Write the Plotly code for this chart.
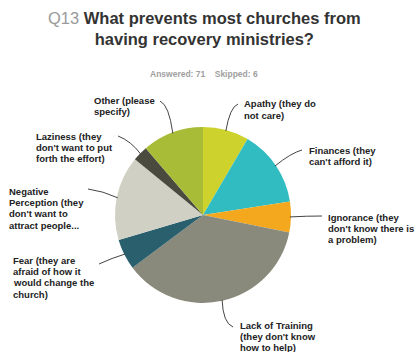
import math
import plotly.graph_objects as go

# Survey responses, clockwise from 12 o'clock
categories = [
    "Apathy (they do not care)",
    "Finances (they can't afford it)",
    "Ignorance (they don't know there is a problem)",
    "Lack of Training (they don't know how to help)",
    "Fear (they are afraid of how it would change the church)",
    "Negative Perception (they don't want to attract people...",
    "Laziness (they don't want to put forth the effort)",
    "Other (please specify)",
]
responses = [6, 10, 4, 26, 4, 11, 2, 8]
label_lines = [
    ["Apathy (they do", "not care)"],
    ["Finances (they", "can't afford it)"],
    ["Ignorance (they", "don't know there is", "a problem)"],
    ["Lack of Training", "(they don't know", "how to help)"],
    ["Fear (they are", "afraid of how it", "would change the", "church)"],
    ["Negative", "Perception (they", "don't want to", "attract people..."],
    ["Laziness (they", "don't want to put", "forth the effort)"],
    ["Other (please", "specify)"],
]
colors = ["#cdd22c", "#30bcc1", "#f4a81d", "#8a8a7c",
          "#2a5f6e", "#d1d0c4", "#4b4a3e", "#a8bc37"]

answered = 71
skipped = 6

# Canvas and pie geometry in pixels
W, H = 415, 352
CX, CY, R = 203, 215, 88

# Label placement: text left edge / first line centre, leader start, bend point
label_pos = [(243, 104), (308, 150), (327, 217), (239, 325),
             (12, 260), (8, 191), (35, 136), (93, 100)]
leader_start = [(238, 104), (302, 150), (322, 216), (233, 327),
                (99, 264), (88, 189), (118, 136), (160, 101)]
leader_bend = [(230, 107), (291, 153), (307, 216), (223, 323),
               (112, 258), (103, 191), (131, 141), (169, 105)]

FONT = "Liberation Sans, Arial, sans-serif"
LABEL_SIZE = 9.5
LINE_GAP = 11.4


def px(x):
    return x / W


def py(y):
    return 1 - y / H


fig = go.Figure(go.Pie(
    labels=categories,
    values=responses,
    sort=False,
    direction="clockwise",
    rotation=0,
    marker=dict(colors=colors, line=dict(width=0)),
    textinfo="none",
    hoverinfo="label+value+percent",
    showlegend=False,
    domain=dict(x=[px(CX - R), px(CX + R)], y=[py(CY + R), py(CY - R)]),
))

total = sum(responses)
cum = 0
shapes = []
annotations = []
for i, v in enumerate(responses):
    mid = (cum + v / 2) / total * 2 * math.pi
    cum += v
    ex = CX + (R - 1) * math.sin(mid)
    ey = CY - (R - 1) * math.cos(mid)
    sx, sy = leader_start[i]
    bx, by = leader_bend[i]
    shapes.append(dict(
        type="path", xref="paper", yref="paper",
        path=f"M {px(sx)},{py(sy)} Q {px(bx)},{py(by)} {px(ex)},{py(ey)}",
        line=dict(color="#444444", width=1),
    ))
    lx, ly = label_pos[i]
    for k, line in enumerate(label_lines[i]):
        annotations.append(dict(
            x=px(lx), y=py(ly + k * LINE_GAP), xref="paper", yref="paper",
            xanchor="left", yanchor="middle", align="left", showarrow=False,
            text=line, borderpad=0,
            font=dict(family=FONT, size=LABEL_SIZE, color="#222222",
                      weight="bold"),
        ))

# Title and response counts
annotations.append(dict(
    x=px(204), y=py(8), xref="paper", yref="paper",
    xanchor="center", yanchor="top", showarrow=False, borderpad=0,
    text="<span style='color:#9a9a9a;font-weight:normal'>Q13</span> "
         "What prevents most churches from<br>having recovery ministries?",
    font=dict(family=FONT, size=16.5, color="#333333", weight="bold"),
))
annotations.append(dict(
    x=px(204), y=py(74), xref="paper", yref="paper",
    xanchor="center", yanchor="middle", showarrow=False, borderpad=0,
    text=f"Answered: {answered}\u00a0\u00a0\u00a0 Skipped: {skipped}",
    font=dict(family=FONT, size=8.5, color="#a0a0a0", weight="bold"),
))

fig.update_layout(
    width=W, height=H,
    margin=dict(l=0, r=0, t=0, b=0),
    paper_bgcolor="white", plot_bgcolor="white",
    shapes=shapes, annotations=annotations,
)

fig.write_html("out.html", config=dict(displayModeBar=False))
